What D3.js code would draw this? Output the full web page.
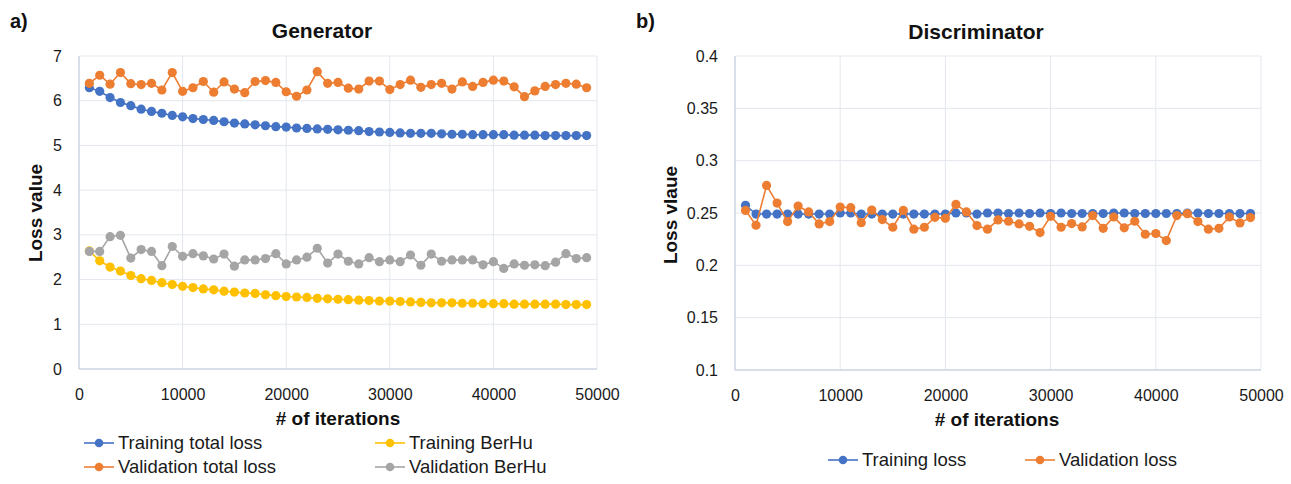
<!DOCTYPE html>
<html>
<head>
<meta charset="utf-8">
<script src="https://cdn.jsdelivr.net/npm/d3@7"></script>
<style>
  html, body { margin: 0; padding: 0; background: #fff; }
  svg { display: block; font-family: "Liberation Sans", Arial, sans-serif; }
  .grid line { stroke: #e3e7ee; stroke-width: 1; }
  .axis-line { stroke: #c2cbdb; stroke-width: 1.2; }
  .tick-label { font-size: 16px; fill: #1a1a1a; }
  .title { font-size: 21px; font-weight: bold; fill: #111; }
  .axis-title { font-size: 19px; font-weight: bold; fill: #111; }
  .panel-tag { font-size: 20px; font-weight: bold; fill: #111; }
  .legend-text { font-size: 18.5px; fill: #1a1a1a; }
</style>
</head>
<body>
<svg id="chart" width="1291" height="484"></svg>
<script>
// -----------------------------
// Data
// -----------------------------
const iterations = d3.range(1000, 50000, 1000); // 1000 .. 49000

const genTrainTotal = [
  6.29, 6.21, 6.07, 5.96, 5.89, 5.81, 5.76, 5.72, 5.67, 5.64,
  5.60, 5.58, 5.56, 5.53, 5.50, 5.48, 5.46, 5.44, 5.42, 5.41,
  5.39, 5.38, 5.37, 5.36, 5.35, 5.34, 5.33, 5.31, 5.30, 5.29,
  5.28, 5.27, 5.27, 5.27, 5.26, 5.25, 5.25, 5.24, 5.24, 5.24,
  5.24, 5.23, 5.23, 5.23, 5.22, 5.22, 5.22, 5.22, 5.22
];
const genTrainBerHu = [
  2.64, 2.42, 2.28, 2.19, 2.09, 2.02, 1.98, 1.93, 1.89, 1.85,
  1.82, 1.79, 1.77, 1.74, 1.72, 1.70, 1.69, 1.66, 1.64, 1.62,
  1.61, 1.60, 1.58, 1.57, 1.56, 1.55, 1.54, 1.53, 1.52, 1.52,
  1.51, 1.50, 1.49, 1.48, 1.48, 1.48, 1.47, 1.47, 1.46, 1.46,
  1.46, 1.45, 1.45, 1.45, 1.45, 1.45, 1.44, 1.44, 1.44
];
const genValTotal = [
  6.39, 6.57, 6.37, 6.63, 6.38, 6.36, 6.39, 6.24, 6.63, 6.21,
  6.29, 6.43, 6.19, 6.42, 6.26, 6.18, 6.43, 6.45, 6.41, 6.20,
  6.10, 6.24, 6.65, 6.39, 6.41, 6.28, 6.26, 6.44, 6.44, 6.25,
  6.36, 6.46, 6.30, 6.36, 6.39, 6.26, 6.42, 6.32, 6.41, 6.46,
  6.44, 6.31, 6.09, 6.22, 6.32, 6.36, 6.39, 6.37, 6.29
];
const genValBerHu = [
  2.63, 2.63, 2.96, 2.99, 2.48, 2.67, 2.63, 2.31, 2.74, 2.52,
  2.58, 2.53, 2.46, 2.57, 2.30, 2.44, 2.44, 2.47, 2.58, 2.35,
  2.44, 2.50, 2.70, 2.37, 2.57, 2.41, 2.35, 2.49, 2.40, 2.44,
  2.40, 2.55, 2.32, 2.57, 2.41, 2.44, 2.44, 2.44, 2.33, 2.40,
  2.25, 2.35, 2.32, 2.33, 2.31, 2.39, 2.58, 2.47, 2.49
];

const discTrain = [
  0.2573, 0.2490, 0.2490, 0.2490, 0.2490, 0.2490, 0.2490, 0.2490, 0.2490, 0.2500,
  0.2500, 0.2490, 0.2490, 0.2490, 0.2490, 0.2490, 0.2490, 0.2490, 0.2490, 0.2490,
  0.2500, 0.2500, 0.2490, 0.2500, 0.2500, 0.2495, 0.2500, 0.2495, 0.2500, 0.2495,
  0.2500, 0.2495, 0.2495, 0.2495, 0.2495, 0.2500, 0.2500, 0.2495, 0.2495, 0.2495,
  0.2495, 0.2495, 0.2500, 0.2500, 0.2495, 0.2495, 0.2495, 0.2495, 0.2495
];
const discVal = [
  0.2525, 0.2383, 0.2763, 0.2595, 0.2418, 0.2566, 0.2510, 0.2396, 0.2418, 0.2557,
  0.2551, 0.2408, 0.2528, 0.2437, 0.2364, 0.2525, 0.2345, 0.2364, 0.2459, 0.2449,
  0.2582, 0.2510, 0.2380, 0.2345, 0.2434, 0.2421, 0.2396, 0.2373, 0.2313, 0.2468,
  0.2364, 0.2399, 0.2367, 0.2475, 0.2354, 0.2462, 0.2358, 0.2421, 0.2297, 0.2304,
  0.2237, 0.2475, 0.2494, 0.2418, 0.2345, 0.2354, 0.2462, 0.2405, 0.2456
];

const xTicks = [0, 10000, 20000, 30000, 40000, 50000];
const genYTicks = [0, 1, 2, 3, 4, 5, 6, 7];
const discYTicks = [0.1, 0.15, 0.2, 0.25, 0.3, 0.35, 0.4];

const COLORS = {
  blue: "#4472c4",
  orange: "#ed7d31",
  yellow: "#ffc000",
  gray: "#a5a5a5"
};

// -----------------------------
// Helpers
// -----------------------------
const svg = d3.select("#chart");

function drawPanel(opts) {
  const { left, right, top, bottom, yDomain, yTicks, series } = opts;

  const x = d3.scaleLinear().domain([0, 50000]).range([left, right]);
  const y = d3.scaleLinear().domain(yDomain).range([bottom, top]);

  const g = svg.append("g");

  // gridlines
  const grid = g.append("g").attr("class", "grid");
  grid.selectAll("line.h")
    .data(yTicks)
    .join("line")
    .attr("class", "h")
    .attr("x1", left).attr("x2", right)
    .attr("y1", (d) => y(d)).attr("y2", (d) => y(d));
  grid.selectAll("line.v")
    .data(xTicks.slice(1))
    .join("line")
    .attr("class", "v")
    .attr("x1", (d) => x(d)).attr("x2", (d) => x(d))
    .attr("y1", top).attr("y2", bottom);

  // axis lines (left + bottom)
  g.append("line").attr("class", "axis-line")
    .attr("x1", left).attr("x2", left).attr("y1", top).attr("y2", bottom);
  g.append("line").attr("class", "axis-line")
    .attr("x1", left).attr("x2", right).attr("y1", bottom).attr("y2", bottom);

  // tick labels via d3 axes, with the domain/tick lines hidden
  const yAxis = g.append("g")
    .attr("transform", `translate(${left},0)`)
    .call(d3.axisLeft(y).tickValues(yTicks).tickSize(0).tickPadding(17).tickFormat(d3.format("~g")));
  const xAxis = g.append("g")
    .attr("transform", `translate(0,${bottom})`)
    .call(d3.axisBottom(x).tickValues(xTicks).tickSize(0).tickPadding(20).tickFormat(d3.format("d")));
  [yAxis, xAxis].forEach((a) => {
    a.select(".domain").remove();
    a.selectAll("text").attr("class", "tick-label").attr("font-family", null).attr("font-size", null);
  });

  // series
  const line = d3.line().x((d) => x(d[0])).y((d) => y(d[1]));
  series.forEach((s) => {
    const pts = iterations.map((it, i) => [it, s.values[i]]);
    const sg = g.append("g");
    sg.append("path")
      .attr("d", line(pts))
      .attr("fill", "none")
      .attr("stroke", s.color)
      .attr("stroke-width", 1.6);
    sg.selectAll("circle")
      .data(pts)
      .join("circle")
      .attr("cx", (d) => x(d[0]))
      .attr("cy", (d) => y(d[1]))
      .attr("r", 4.6)
      .attr("fill", s.color);
  });

  return { x, y };
}

function legendItem(cx, cy, color, label) {
  const g = svg.append("g");
  g.append("line")
    .attr("x1", cx - 15).attr("x2", cx + 15)
    .attr("y1", cy).attr("y2", cy)
    .attr("stroke", color).attr("stroke-width", 1.6);
  g.append("circle").attr("cx", cx).attr("cy", cy).attr("r", 4.3).attr("fill", color);
  g.append("text")
    .attr("class", "legend-text")
    .attr("x", cx + 19).attr("y", cy)
    .attr("dy", "0.35em")
    .text(label);
}

// -----------------------------
// a) Generator
// -----------------------------
drawPanel({
  left: 79, right: 597, top: 56, bottom: 369,
  yDomain: [0, 7], yTicks: genYTicks,
  series: [
    { values: genTrainTotal, color: COLORS.blue },
    { values: genTrainBerHu, color: COLORS.yellow },
    { values: genValTotal, color: COLORS.orange },
    { values: genValBerHu, color: COLORS.gray }
  ]
});

svg.append("text").attr("class", "panel-tag").attr("x", 10).attr("y", 28).text("a)");
svg.append("text").attr("class", "title").attr("x", 322).attr("y", 38)
  .attr("text-anchor", "middle").text("Generator");
svg.append("text").attr("class", "axis-title")
  .attr("transform", "translate(42,213) rotate(-90)")
  .attr("text-anchor", "middle").text("Loss value");
svg.append("text").attr("class", "axis-title").attr("x", 338).attr("y", 425)
  .attr("text-anchor", "middle").text("# of iterations");

legendItem(99, 443, COLORS.blue, "Training total loss");
legendItem(390, 443, COLORS.yellow, "Training BerHu");
legendItem(99, 467, COLORS.orange, "Validation total loss");
legendItem(390, 467, COLORS.gray, "Validation BerHu");

// -----------------------------
// b) Discriminator
// -----------------------------
drawPanel({
  left: 735, right: 1261, top: 56, bottom: 370,
  yDomain: [0.1, 0.4], yTicks: discYTicks,
  series: [
    { values: discTrain, color: COLORS.blue },
    { values: discVal, color: COLORS.orange }
  ]
});

svg.append("text").attr("class", "panel-tag").attr("x", 636).attr("y", 28).text("b)");
svg.append("text").attr("class", "title").attr("x", 976).attr("y", 39)
  .attr("text-anchor", "middle").text("Discriminator");
svg.append("text").attr("class", "axis-title")
  .attr("transform", "translate(677,215) rotate(-90)")
  .attr("text-anchor", "middle").text("Loss vlaue");
svg.append("text").attr("class", "axis-title").attr("x", 997).attr("y", 426)
  .attr("text-anchor", "middle").text("# of iterations");

legendItem(843, 460, COLORS.blue, "Training loss");
legendItem(1040, 460, COLORS.orange, "Validation loss");
</script>
</body>
</html>
